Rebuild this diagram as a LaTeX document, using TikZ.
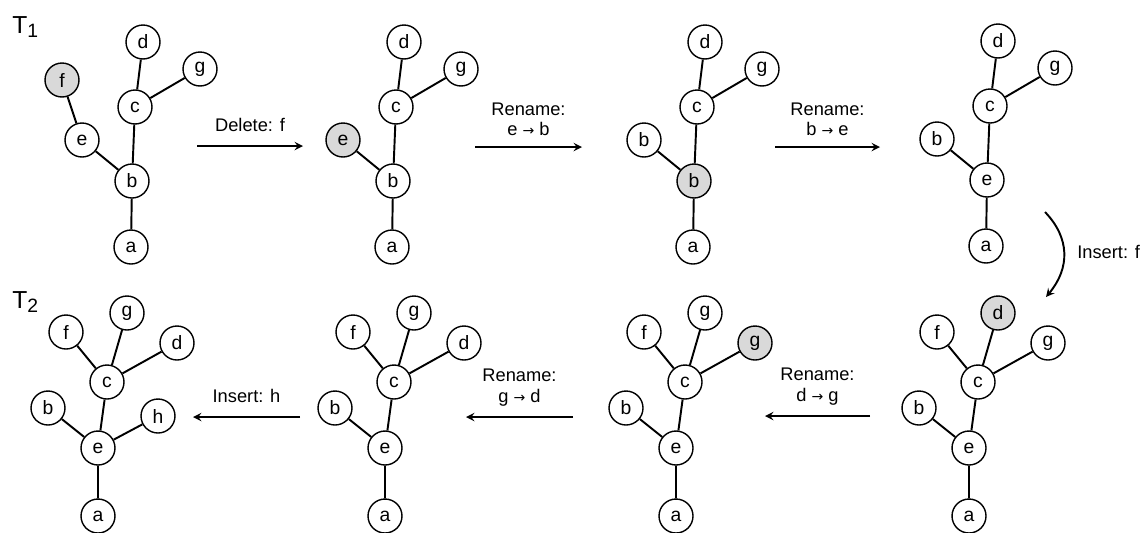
\documentclass[tikz,border=0pt]{standalone}
\usepackage{fontspec}
\setmainfont{Liberation Sans}
\newfontfamily\arrowfont{DejaVu Sans}
\usetikzlibrary{arrows}
\definecolor{shade}{RGB}{217,217,217}
\newcommand{\renamed}{ {\arrowfont\fontsize{8}{8}\selectfont →} }
\tikzset{
  vertex/.style={circle, draw, line width=0.8pt, fill=white, minimum size=0.68cm,
    inner sep=0pt, font=\fontsize{11}{12}\selectfont},
  edge/.style={line width=1.1pt},
  oparrow/.style={->, >=stealth, line width=1.1pt},
  oplabel/.style={font=\fontsize{10.4}{11.5}\selectfont, align=center},
  treename/.style={anchor=base west, inner sep=0pt, font=\fontsize{14}{14}\selectfont}
}

\begin{document}
\begin{tikzpicture}[x=0.02cm, y=-0.02cm]
\useasboundingbox (0,0) rectangle (1141,532);

% tree labels
\node[treename] (tone) at (12,33) {T\raisebox{-2.8pt}{\fontsize{11}{11}\selectfont 1}};
\node[treename] (ttwo) at (12,308) {T\raisebox{-2.8pt}{\fontsize{11}{11}\selectfont 2}};

% upper row: T1 and the first edits
\foreach \t/\sx/\sy/\cen/\lft/\cenfill/\lftfill in
  {1/132/181/b/e/white/white, 2/393/181/b/e/white/shade,
   3/694/181/b/b/shade/white, 4/987/180/e/b/white/white}{
  \begin{scope}[shift={(\sx,\sy)}]
    \node[vertex] (a\t) at (-1,66) {a};
    \node[vertex, fill=\cenfill] (m\t) at (0,0) {\cen};
    \node[vertex, fill=\lftfill] (l\t) at (-50,-41) {\lft};
    \node[vertex] (c\t) at (3,-74) {c};
    \node[vertex] (d\t) at (11,-139) {d};
    \node[vertex] (g\t) at (68,-112) {g};
  \end{scope}
  \draw[edge] (a\t) -- (m\t) (m\t) -- (l\t) (m\t) -- (c\t) (c\t) -- (d\t) (c\t) -- (g\t);
}
\node[vertex, fill=shade] (f1) at (62,80) {f};
\draw[edge] (l1) -- (f1);

% lower row: back towards T2
\foreach \t/\sx/\upp/\rgt/\uppfill/\rgtfill in
  {5/969/d/g/shade/white, 6/676/g/g/white/shade,
   7/385/g/d/white/white, 8/98/g/d/white/white}{
  \begin{scope}[shift={(\sx,448)}]
    \node[vertex] (a\t) at (0,68) {a};
    \node[vertex] (e\t) at (0,0) {e};
    \node[vertex] (b\t) at (-50,-40) {b};
    \node[vertex] (c\t) at (9,-66) {c};
    \node[vertex] (f\t) at (-32,-116) {f};
    \node[vertex, fill=\uppfill] (u\t) at (29,-135) {\upp};
    \node[vertex, fill=\rgtfill] (r\t) at (79,-105) {\rgt};
  \end{scope}
  \draw[edge] (a\t) -- (e\t) (e\t) -- (b\t) (e\t) -- (c\t) (c\t) -- (f\t) (c\t) -- (u\t) (c\t) -- (r\t);
}
\node[vertex] (h8) at (158,416) {h};
\draw[edge] (e8) -- (h8);

% edit operations
\coordinate (from1) at (197,146);  \coordinate (to1) at (303,146);
\coordinate (from2) at (475,147);  \coordinate (to2) at (582,147);
\coordinate (from3) at (775,147);  \coordinate (to3) at (880,147);
\coordinate (from4) at (1045,212); \coordinate (to4) at (1046,297);
\coordinate (from5) at (870,416);  \coordinate (to5) at (765,416);
\coordinate (from6) at (573,417);  \coordinate (to6) at (466,417);
\coordinate (from7) at (300,417);  \coordinate (to7) at (193,417);

\draw[oparrow] (from1) -- node[oplabel, above=4.5pt] (op1) {Delete: f} (to1);
\draw[oparrow] (from2) -- node[oplabel, above=2.5pt] (op2) {Rename:\\e\renamed b} (to2);
\draw[oparrow] (from3) -- node[oplabel, above=2.5pt] (op3) {Rename:\\b\renamed e} (to3);
\draw[oparrow] (from4) .. controls (1070,238) and (1070,268) .. (to4);
\node[oplabel, anchor=west, inner sep=0pt] (op4) at (1077,252) {Insert: f};
\draw[oparrow] (from5) -- node[oplabel, above=2.5pt] (op5) {Rename:\\d\renamed g} (to5);
\draw[oparrow] (from6) -- node[oplabel, above=2.5pt] (op6) {Rename:\\g\renamed d} (to6);
\draw[oparrow] (from7) -- node[oplabel, above=4.5pt] (op7) {Insert: h} (to7);
\end{tikzpicture}
\end{document}
